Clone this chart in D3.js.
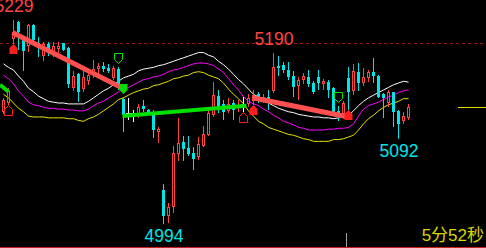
<!DOCTYPE html>
<html>
<head>
<meta charset="utf-8">
<script src="https://cdn.jsdelivr.net/npm/d3@7"></script>
<style>
  html, body { margin: 0; padding: 0; background: #000; overflow: hidden; }
</style>
</head>
<body>
<div id="container"></div>
<script>
/* CONSTANTS AND GLOBALS */
const width = 486;
const height = 248;

/* DATA */
const opens = [5123,5133,5207,5226,5205,5199,5223,5202,5187,5201,
  5192,5195,5202,5196,5150,5166,5149,5158,5165,5172,
  5176,5173,5162,5172,5138,5122,5122,5119,5130,5125,
  5123,5100,5033,5003,5014,5074,5088,5081,5076,5071,
  5084,5096,5119,5141,5132,5124,5133,5127,5132,5132,
  5135,5143,5135,5140,5147,5176,5177,5171,5164,5153,
  5160,5163,5156,5163,5155,5157,5150,5124,5120,5162,
  5147,5169,5156,5162,5169,5164,5143,5133,5146,5124,
  5112,5116];
const closes = [5137,5147,5215,5215,5193,5223,5205,5196,5201,5192,
  5199,5199,5194,5155,5164,5146,5163,5165,5172,5176,
  5172,5170,5173,5150,5119,5122,5122,5128,5126,5122,
  5102,5103,5003,5014,5076,5087,5080,5074,5069,5086,
  5097,5122,5142,5127,5123,5132,5125,5131,5132,5139,
  5142,5139,5140,5133,5174,5173,5171,5163,5151,5160,
  5164,5155,5146,5156,5158,5148,5120,5120,5133,5146,
  5170,5156,5163,5169,5164,5140,5139,5146,5123,5109,
  5118,5128];
const highs = [5139,5150,5229,5227,5208,5224,5224,5209,5203,5203,
  5203,5203,5202,5197,5170,5168,5174,5168,5183,5179,
  5180,5178,5176,5174,5140,5139,5125,5132,5137,5126,
  5125,5105,5040,5018,5084,5116,5095,5095,5082,5094,
  5107,5125,5157,5148,5137,5139,5137,5137,5140,5143,
  5148,5146,5143,5148,5190,5187,5180,5180,5170,5163,
  5168,5171,5158,5171,5161,5160,5151,5130,5135,5174,
  5178,5179,5173,5171,5185,5165,5145,5148,5146,5125,
  5123,5132];
const lows = [5120,5131,5201,5194,5170,5192,5199,5186,5181,5187,
  5186,5191,5193,5150,5147,5134,5146,5154,5162,5163,
  5169,5168,5160,5148,5100,5113,5111,5116,5123,5120,
  5093,5087,4994,4995,5007,5066,5066,5072,5056,5068,
  5082,5095,5117,5122,5113,5122,5113,5123,5123,5128,
  5131,5133,5133,5125,5145,5164,5168,5160,5140,5137,
  5155,5151,5143,5148,5148,5139,5118,5112,5118,5125,
  5142,5147,5153,5157,5156,5139,5116,5128,5105,5092,
  5109,5113];

// three envelope lines (white / magenta / yellow)
const bandTop = [5178,5174,5171,5164,5158,5150,5146,5141,5138,5135,
  5134,5133,5133,5132,5132,5132,5132,5135,5139,5143,
  5147,5150,5154,5158,5162,5164,5166,5170,5172,5173,
  5174,5176,5177,5179,5181,5183,5185,5187,5189,5191,
  5191,5188,5186,5181,5177,5172,5166,5160,5155,5149,
  5143,5140,5137,5133,5130,5127,5125,5123,5122,5120,
  5119,5118,5117,5117,5116,5116,5115,5116,5117,5119,
  5124,5130,5135,5139,5142,5145,5148,5151,5154,5156,
  5158,5157];
const bandMid = [5165,5161,5155,5147,5141,5134,5131,5130,5128,5127,
  5127,5126,5126,5125,5125,5124,5124,5126,5130,5133,
  5135,5139,5142,5146,5149,5151,5154,5157,5160,5161,
  5163,5164,5166,5169,5171,5172,5174,5176,5178,5179,
  5179,5178,5176,5172,5168,5161,5154,5148,5140,5135,
  5132,5130,5126,5123,5119,5116,5112,5110,5108,5105,
  5104,5102,5102,5102,5102,5103,5103,5104,5104,5105,
  5109,5118,5126,5130,5132,5134,5137,5140,5142,5145,
  5147,5148];
const bandLow = [5143,5139,5133,5127,5123,5118,5117,5117,5117,5116,
  5116,5116,5116,5115,5115,5113,5112,5115,5117,5120,
  5124,5128,5132,5137,5139,5142,5145,5147,5149,5150,
  5153,5154,5156,5158,5161,5162,5164,5165,5168,5169,
  5168,5165,5163,5161,5156,5149,5143,5138,5132,5124,
  5118,5112,5109,5105,5103,5101,5099,5097,5096,5094,
  5092,5091,5089,5089,5089,5089,5091,5091,5092,5094,
  5096,5102,5109,5115,5119,5124,5128,5131,5133,5135,
  5138,5138];

const prevClose = 5202;
const peakBars = [2, 54];
const troughBars = [32, 79];
const upArrows = [2, 50, 69];
const upArrowsHollow = [1, 48];
const downArrows = [24];
const downArrowsHollow = [23, 67];
// [fromBar, fromPrice, toBar, toPrice]
const fallLines = [[1.8, 5214, 23.5, 5151], [49.8, 5139, 69, 5117]];
const riseLines = [[-0.7, 5154, 1, 5146], [23.8, 5118, 48.6, 5130]];
const timerText = "5分52秒";

const bars = opens.map((o, i) => ({
  i, open: o, close: closes[i], high: highs[i], low: lows[i]
}));

const svg = d3.select("#container")
  .append("svg")
  .attr("width", width)
  .attr("height", height)
  .style("display", "block")
  .style("background-color", "black");

/* SCALES */
const xScale = d3.scaleLinear()
  .domain([0, bars.length - 1])
  .range([3.5, 3.5 + 5 * (bars.length - 1)]);

const yScale = d3.scaleLinear()
  .domain([4994, 5229])
  .range([224, 19.5]);

const red = "#ff4444";
const cyan = "#00e6e6";

// previous close dashed line
const yPrev = Math.round(yScale(prevClose)) + 0.5;
svg.append("line")
  .attr("x1", 0).attr("x2", width)
  .attr("y1", yPrev).attr("y2", yPrev)
  .attr("stroke", "#9a1515")
  .attr("stroke-dasharray", "3,3");

// bottom border
svg.append("line")
  .attr("x1", 0).attr("x2", width)
  .attr("y1", 247.5).attr("y2", 247.5)
  .attr("stroke", "#c81e1e");

// envelope lines
const line = d3.line()
  .x((d, i) => xScale(i))
  .y(d => yScale(d));

[[bandTop, "#ffffff"], [bandMid, "#ff00ff"], [bandLow, "#e6e600"]].forEach(([vals, col]) => {
  svg.append("path")
    .datum(vals)
    .attr("d", line)
    .attr("fill", "none")
    .attr("stroke", col)
    .attr("stroke-width", 1);
});

/* CANDLES */
const g = svg.append("g").attr("shape-rendering", "crispEdges");

bars.forEach(d => {
  const cx = xScale(d.i);
  const yH = Math.round(yScale(d.high));
  const yL = Math.round(yScale(d.low));
  const yO = Math.round(yScale(d.open));
  const yC = Math.round(yScale(d.close));
  const top = Math.min(yO, yC);
  const bot = Math.max(yO, yC);

  if (d.close > d.open) {
    // hollow red
    g.append("line").attr("x1", cx).attr("x2", cx).attr("y1", yH).attr("y2", top).attr("stroke", red);
    g.append("line").attr("x1", cx).attr("x2", cx).attr("y1", bot).attr("y2", yL).attr("stroke", red);
    g.append("rect")
      .attr("x", cx - 1).attr("y", top + 0.5)
      .attr("width", 2).attr("height", Math.max(1, bot - top - 1))
      .attr("fill", "none").attr("stroke", red);
  } else if (d.close < d.open) {
    g.append("line").attr("x1", cx).attr("x2", cx).attr("y1", yH).attr("y2", yL).attr("stroke", cyan);
    g.append("rect")
      .attr("x", cx - 1.5).attr("y", top)
      .attr("width", 3).attr("height", Math.max(1, bot - top))
      .attr("fill", cyan);
  } else {
    g.append("line").attr("x1", cx).attr("x2", cx).attr("y1", yH).attr("y2", yL).attr("stroke", "#ffffff");
    g.append("rect")
      .attr("x", cx - 2.5).attr("y", top)
      .attr("width", 5).attr("height", 1)
      .attr("fill", "#ffffff");
  }
});

/* TREND LINES */
fallLines.forEach(s => {
  svg.append("line")
    .attr("x1", xScale(s[0])).attr("y1", yScale(s[1]))
    .attr("x2", xScale(s[2])).attr("y2", yScale(s[3]))
    .attr("stroke", "#ff5050").attr("stroke-width", 5);
});
riseLines.forEach(s => {
  svg.append("line")
    .attr("x1", xScale(s[0])).attr("y1", yScale(s[1]))
    .attr("x2", xScale(s[2])).attr("y2", yScale(s[3]))
    .attr("stroke", "#00e000").attr("stroke-width", 4);
});

/* SIGNAL ARROWS */
function upShape(cx, t) {
  return `M${cx},${t} L${cx + 4},${t + 4} L${cx + 4},${t + 10} L${cx - 4},${t + 10} L${cx - 4},${t + 4} Z`;
}
function downShape(cx, b) {
  return `M${cx - 4},${b - 10} L${cx + 4},${b - 10} L${cx + 4},${b - 4} L${cx},${b} L${cx - 4},${b - 4} Z`;
}

upArrows.forEach(i => {
  svg.append("path").attr("d", upShape(xScale(i), Math.round(yScale(lows[i]))))
    .attr("fill", "#ff1e1e");
});
upArrowsHollow.forEach(i => {
  svg.append("path").attr("d", upShape(xScale(i), Math.round(yScale(lows[i])) + 0.5))
    .attr("fill", "none").attr("stroke", "#ff1e1e");
});
downArrows.forEach(i => {
  svg.append("path").attr("d", downShape(xScale(i), Math.round(yScale(highs[i])) - 3))
    .attr("fill", "#00e000");
});
downArrowsHollow.forEach(i => {
  svg.append("path").attr("d", downShape(xScale(i), Math.round(yScale(highs[i])) - 3.5))
    .attr("fill", "none").attr("stroke", "#00e000");
});

// current price marker on the right
const yLast = Math.round(yScale(closes[closes.length - 1])) + 0.5;
svg.append("line")
  .attr("x1", 458).attr("x2", width)
  .attr("y1", yLast).attr("y2", yLast)
  .attr("stroke", "#e0e000");

// small tick at the bottom
svg.append("line")
  .attr("x1", 346.5).attr("x2", 346.5)
  .attr("y1", 233).attr("y2", 247)
  .attr("stroke", "#a0a0a0");

/* LABELS */
const font = "'Liberation Sans', Arial, sans-serif";

peakBars.forEach(i => {
  svg.append("text")
    .attr("x", xScale(i) + 0.5)
    .attr("y", yScale(highs[i]) - 8)
    .attr("text-anchor", "middle")
    .attr("font-family", font)
    .attr("font-size", 17.5)
    .attr("fill", red)
    .text(highs[i]);
});

troughBars.forEach(i => {
  svg.append("text")
    .attr("x", xScale(i) + 0.5)
    .attr("y", yScale(lows[i]) + 18)
    .attr("text-anchor", "middle")
    .attr("font-family", font)
    .attr("font-size", 17.5)
    .attr("fill", cyan)
    .text(lows[i]);
});

svg.append("text")
  .attr("x", 484)
  .attr("y", 241)
  .attr("text-anchor", "end")
  .attr("font-family", "'Liberation Sans', 'Noto Sans CJK SC', sans-serif")
  .attr("font-size", 17)
  .attr("fill", "#d8d800")
  .text(timerText);
</script>
</body>
</html>
